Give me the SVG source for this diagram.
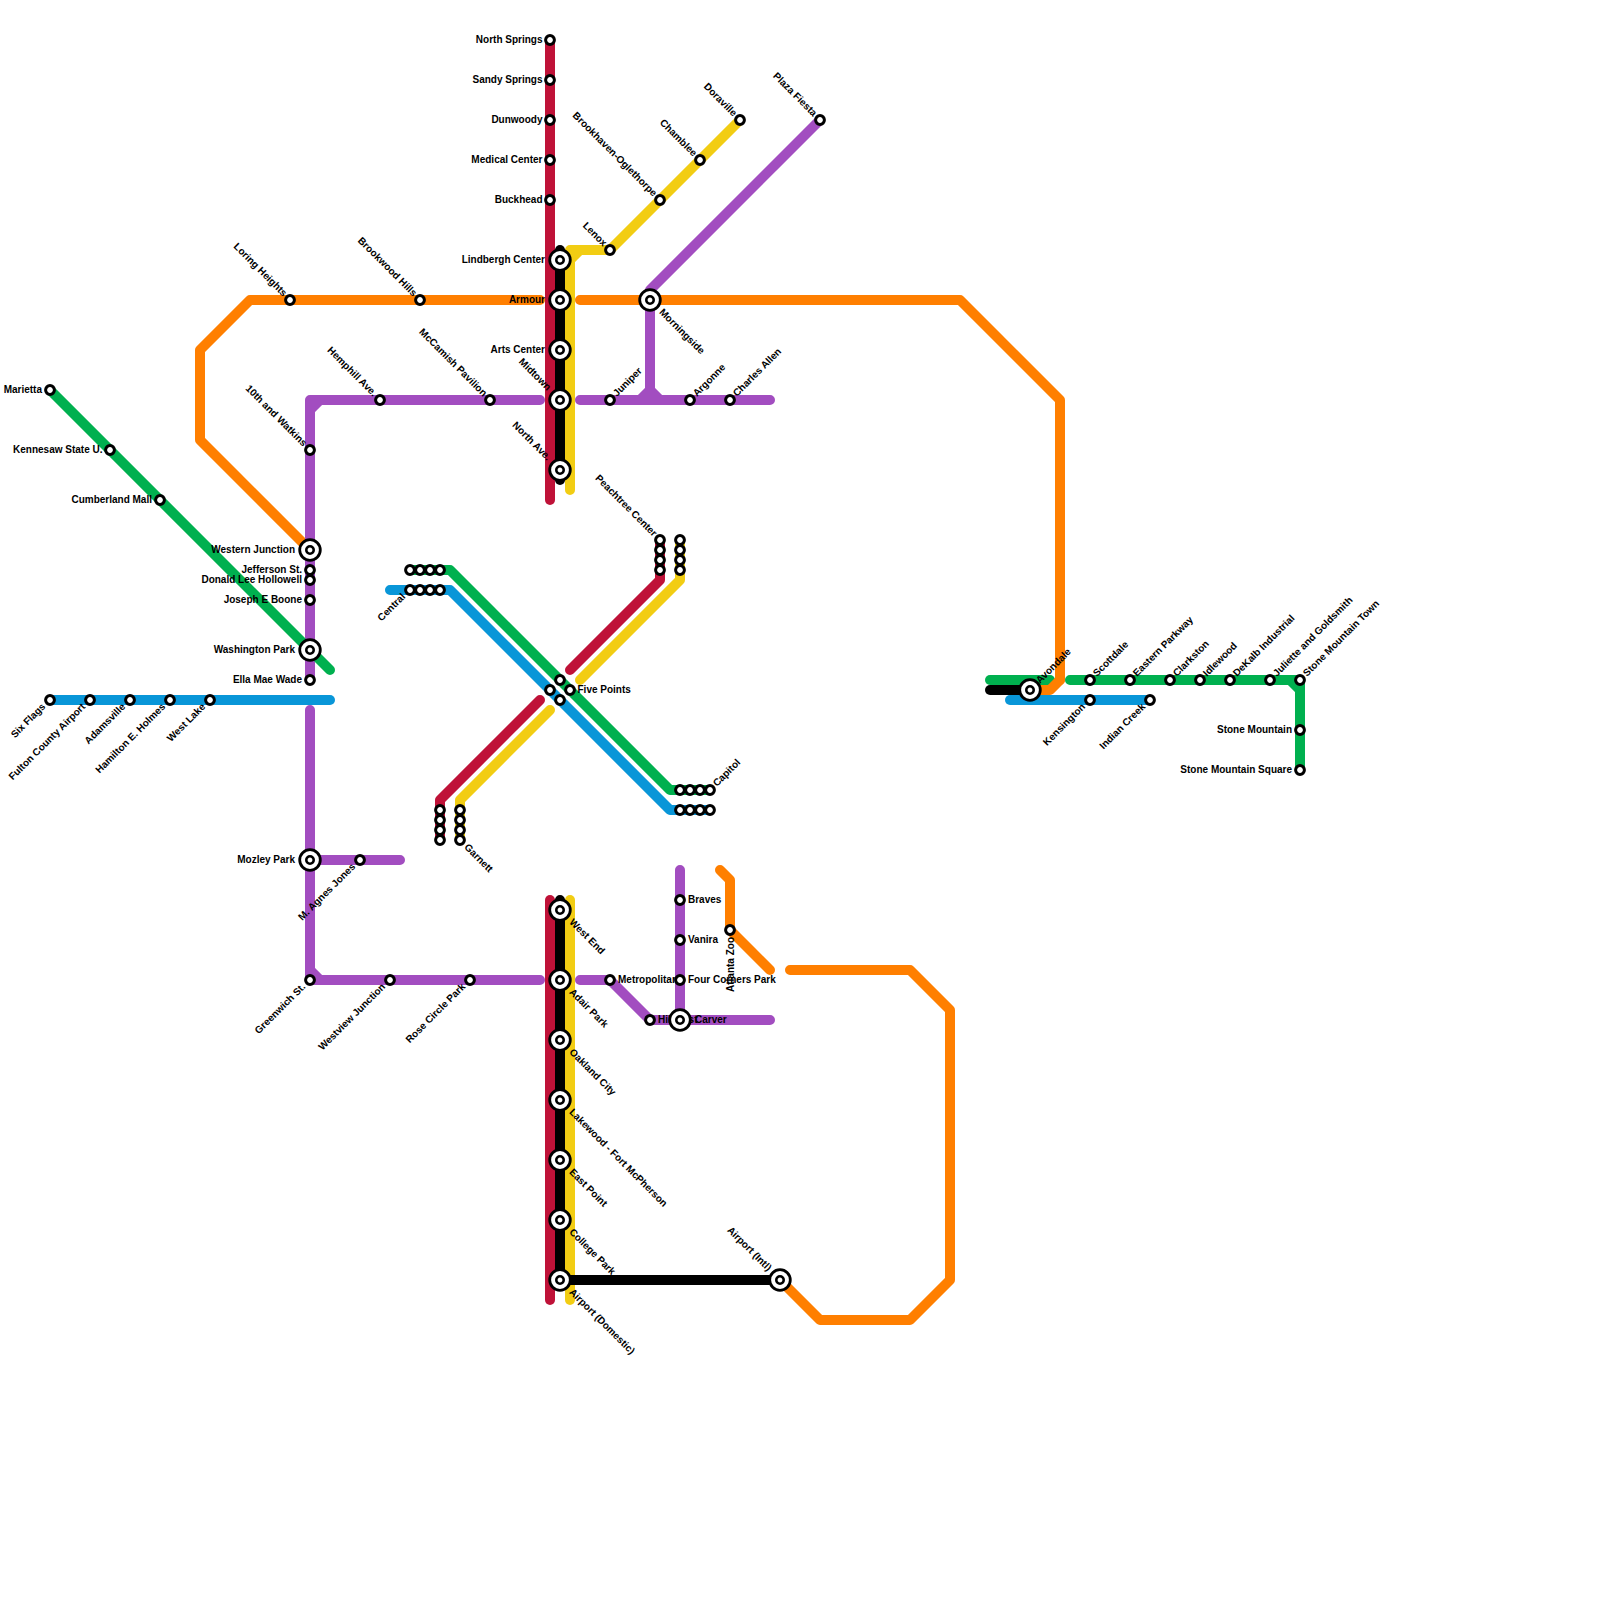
<svg xmlns="http://www.w3.org/2000/svg" width="1600" height="1600" viewBox="0 0 1600 1600">
<style>
.l{fill:none;stroke-width:10;stroke-linecap:round;stroke-linejoin:round}
.o{stroke:#ff7f00}.p{stroke:#a24dc0}.g{stroke:#00b04f}.b{stroke:#0996d8}.r{stroke:#bf1238}.y{stroke:#f2cd13}.k{stroke:#000}
.s{fill:#fff;stroke:#000;stroke-width:3}
.s2{fill:#fff;stroke:#000;stroke-width:2.8}
.s3{fill:#fff;stroke:#000;stroke-width:2.6}
text{font-family:"Liberation Sans",Arial,sans-serif;font-size:10px;font-weight:700;fill:#000}
.e{text-anchor:end}
</style>
<defs>
<g id="st"><circle class="s" r="4.4"/></g>
<g id="ix"><circle class="s2" r="10.3"/><circle class="s3" r="3.7"/></g>
</defs>
<g id="connectors">
<path class="l o" d="M540 300H250L200 350V440L310 550"/>
<path class="l o" d="M580 300H960L1060 400V680"/>
<path class="l o" d="M720 870L730 880V930L770 970M790 970H910L950 1010V1280L910 1320H820L780 1280"/>
<path class="l p" d="M540 400H310V680M310 410L320 400"/>
<path class="l p" d="M310 710V980H540M310 970L320 980M310 860H400"/>
<path class="l p" d="M820 120L650 290V400M580 400H770M640 400L650 390L660 400"/>
<path class="l p" d="M580 980H610L650 1020H770M680 870V1020"/>
<path class="l g" d="M50 390L330 670"/>
<path class="l g" d="M410 570H450L670 790H710"/>
<path class="l g" d="M990 680H1050"/>
<path class="l g" d="M1070 680H1300V770M1290 680L1300 690"/>
<path class="l o" d="M1060 680L1050 690H1030"/>
<path class="l b" d="M50 700H330"/>
<path class="l b" d="M390 590H450L670 810H710"/>
<path class="l b" d="M1010 700H1150"/>
<path class="l r" d="M550 40V500"/>
<path class="l r" d="M660 540V580L570 670"/>
<path class="l r" d="M440 840V800L540 700"/>
<path class="l r" d="M550 900V1300"/>
<path class="l y" d="M610 250H570V490M570 260L580 250"/>
<path class="l y" d="M740 120L610 250"/>
<path class="l y" d="M680 540V580L580 680"/>
<path class="l y" d="M460 840V800L550 710"/>
<path class="l y" d="M570 900V1300"/>
<path class="l k" d="M560 250V480"/>
<path class="l k" d="M560 900V1280H780"/>
<path class="l k" d="M990 690H1030"/>
</g>
<g id="n1"><use href="#st" x="550" y="40"/><text class="e" x="542.5" y="43">North Springs</text></g>
<g id="n2"><use href="#st" x="550" y="80"/><text class="e" x="542.5" y="83">Sandy Springs</text></g>
<g id="n3"><use href="#st" x="550" y="120"/><text class="e" x="542.5" y="123">Dunwoody</text></g>
<g id="n4"><use href="#st" x="550" y="160"/><text class="e" x="542.5" y="163">Medical Center</text></g>
<g id="n5"><use href="#st" x="550" y="200"/><text class="e" x="542.5" y="203">Buckhead</text></g>
<g id="n6"><use href="#ix" x="560" y="260"/><text class="e" x="545" y="263">Lindbergh Center</text></g>
<g id="n7"><use href="#ix" x="560" y="300"/><text class="e" x="545" y="303">Armour</text></g>
<g id="n8"><use href="#ix" x="560" y="350"/><text class="e" x="545" y="353">Arts Center</text></g>
<g id="n9"><use href="#ix" x="560" y="400"/><text class="e" transform="translate(549 389) rotate(45)" y="2.8">Midtown</text></g>
<g id="n10"><use href="#ix" x="560" y="470"/><text class="e" transform="translate(549 459) rotate(45)" y="2.8">North Ave.</text></g>
<g id="n11"><use href="#st" x="610" y="250"/><text class="e" transform="translate(605 245) rotate(45)" y="2.8">Lenox</text></g>
<g id="n12"><use href="#st" x="660" y="200"/><text class="e" transform="translate(655 195) rotate(45)" y="2.8">Brookhaven-Oglethorpe</text></g>
<g id="n13"><use href="#st" x="700" y="160"/><text class="e" transform="translate(695 155) rotate(45)" y="2.8">Chamblee</text></g>
<g id="n14"><use href="#st" x="740" y="120"/><text class="e" transform="translate(735 115) rotate(45)" y="2.8">Doraville</text></g>
<g id="n15"><use href="#st" x="820" y="120"/><text class="e" transform="translate(815 115) rotate(45)" y="2.8">Plaza Fiesta</text></g>
<g id="n16"><use href="#ix" x="650" y="300"/><text transform="translate(660 310) rotate(45)" x="1" y="2.8">Morningside</text></g>
<g id="n17"><use href="#st" x="610" y="400"/><text transform="translate(615 395) rotate(-45)" y="2.8">Juniper</text></g>
<g id="n18"><use href="#st" x="690" y="400"/><text transform="translate(695 395) rotate(-45)" y="2.8">Argonne</text></g>
<g id="n19"><use href="#st" x="730" y="400"/><text transform="translate(735 395) rotate(-45)" y="2.8">Charles Allen</text></g>
<g id="n20"><use href="#st" x="290" y="300"/><text class="e" transform="translate(285 295) rotate(45)" y="2.8">Loring Heights</text></g>
<g id="n21"><use href="#st" x="420" y="300"/><text class="e" transform="translate(415 295) rotate(45)" y="2.8">Brookwood Hills</text></g>
<g id="n22"><use href="#st" x="380" y="400"/><text class="e" transform="translate(375 395) rotate(45)" y="2.8">Hemphill Ave.</text></g>
<g id="n23"><use href="#st" x="490" y="400"/><text class="e" transform="translate(485 395) rotate(45)" y="2.8">McCamish Pavilion</text></g>
<g id="n24"><use href="#st" x="310" y="450"/><text class="e" transform="translate(305 445) rotate(45)" y="2.8">10th and Watkins</text></g>
<g id="n25"><use href="#ix" x="310" y="550"/><text class="e" x="295" y="553">Western Junction</text></g>
<g id="n26"><use href="#st" x="310" y="570"/><text class="e" x="302" y="573">Jefferson St.</text></g>
<g id="n27"><use href="#st" x="310" y="580"/><text class="e" x="302" y="583">Donald Lee Hollowell</text></g>
<g id="n28"><use href="#st" x="310" y="600"/><text class="e" x="302" y="603">Joseph E Boone</text></g>
<g id="n29"><use href="#ix" x="310" y="650"/><text class="e" x="295" y="653">Washington Park</text></g>
<g id="n30"><use href="#st" x="310" y="680"/><text class="e" x="302" y="683">Ella Mae Wade</text></g>
<g id="n31"><use href="#st" x="50" y="390"/><text class="e" x="42" y="393">Marietta</text></g>
<g id="n32"><use href="#st" x="110" y="450"/><text class="e" x="102.5" y="453">Kennesaw State U.</text></g>
<g id="n33"><use href="#st" x="160" y="500"/><text class="e" x="152" y="503">Cumberland Mall</text></g>
<g id="n34"><use href="#st" x="50" y="700"/><text class="e" transform="translate(45 705) rotate(-45)" x="-1" y="2.3">Six Flags</text></g>
<g id="n35"><use href="#st" x="90" y="700"/><text class="e" transform="translate(85 705) rotate(-45)" x="-1" y="2.3">Fulton County Airport</text></g>
<g id="n36"><use href="#st" x="130" y="700"/><text class="e" transform="translate(125 705) rotate(-45)" x="-1" y="2.3">Adamsville</text></g>
<g id="n37"><use href="#st" x="170" y="700"/><text class="e" transform="translate(165 705) rotate(-45)" x="-1" y="2.3">Hamilton E. Holmes</text></g>
<g id="n38"><use href="#st" x="210" y="700"/><text class="e" transform="translate(205 705) rotate(-45)" x="-1" y="2.3">West Lake</text></g>
<g id="n39"><use href="#st" x="410" y="570"/><use href="#st" x="420" y="570"/><use href="#st" x="430" y="570"/><use href="#st" x="440" y="570"/><use href="#st" x="410" y="590"/><use href="#st" x="420" y="590"/><use href="#st" x="430" y="590"/><use href="#st" x="440" y="590"/><text class="e" transform="translate(405 595) rotate(-45)" x="-1" y="2.3">Central</text></g>
<g id="n40"><use href="#st" x="660" y="540"/><use href="#st" x="660" y="550"/><use href="#st" x="660" y="560"/><use href="#st" x="660" y="570"/><use href="#st" x="680" y="540"/><use href="#st" x="680" y="550"/><use href="#st" x="680" y="560"/><use href="#st" x="680" y="570"/><text class="e" transform="translate(655 535) rotate(45)" y="2.8">Peachtree Center</text></g>
<g id="n41"><use href="#st" x="560" y="680"/><use href="#st" x="550" y="690"/><use href="#st" x="570" y="690"/><use href="#st" x="560" y="700"/><text x="577.5" y="693">Five Points</text></g>
<g id="n42"><use href="#st" x="440" y="810"/><use href="#st" x="440" y="820"/><use href="#st" x="440" y="830"/><use href="#st" x="440" y="840"/><use href="#st" x="460" y="810"/><use href="#st" x="460" y="820"/><use href="#st" x="460" y="830"/><use href="#st" x="460" y="840"/><text transform="translate(465 845) rotate(45)" x="1" y="2.8">Garnett</text></g>
<g id="n43"><use href="#st" x="680" y="790"/><use href="#st" x="690" y="790"/><use href="#st" x="700" y="790"/><use href="#st" x="710" y="790"/><use href="#st" x="680" y="810"/><use href="#st" x="690" y="810"/><use href="#st" x="700" y="810"/><use href="#st" x="710" y="810"/><text transform="translate(715 785) rotate(-45)" y="2.8">Capitol</text></g>
<g id="n44"><use href="#ix" x="310" y="860"/><text class="e" x="295" y="863">Mozley Park</text></g>
<g id="n45"><use href="#st" x="360" y="860"/><text class="e" transform="translate(355 865) rotate(-45)" x="-1" y="2.3">M. Agnes Jones</text></g>
<g id="n46"><use href="#st" x="310" y="980"/><text class="e" transform="translate(305 985) rotate(-45)" x="-1" y="2.3">Greenwich St.</text></g>
<g id="n47"><use href="#st" x="390" y="980"/><text class="e" transform="translate(385 985) rotate(-45)" x="-1" y="2.3">Westview Junction</text></g>
<g id="n48"><use href="#st" x="470" y="980"/><text class="e" transform="translate(465 985) rotate(-45)" x="-1" y="2.3">Rose Circle Park</text></g>
<g id="n49"><use href="#ix" x="560" y="910"/><text transform="translate(570 920) rotate(45)" x="1" y="2.8">West End</text></g>
<g id="n50"><use href="#ix" x="560" y="980"/><text transform="translate(570 990) rotate(45)" x="1" y="2.8">Adair Park</text></g>
<g id="n51"><use href="#ix" x="560" y="1040"/><text transform="translate(570 1050) rotate(45)" x="1" y="2.8">Oakland City</text></g>
<g id="n52"><use href="#ix" x="560" y="1100"/><text transform="translate(570 1110) rotate(45)" x="1" y="2.8">Lakewood - Fort McPherson</text></g>
<g id="n53"><use href="#ix" x="560" y="1160"/><text transform="translate(570 1170) rotate(45)" x="1" y="2.8">East Point</text></g>
<g id="n54"><use href="#ix" x="560" y="1220"/><text transform="translate(570 1230) rotate(45)" x="1" y="2.8">College Park</text></g>
<g id="n55"><use href="#ix" x="560" y="1280"/><text transform="translate(570 1290) rotate(45)" x="1" y="2.8">Airport (Domestic)</text></g>
<g id="n56"><use href="#ix" x="780" y="1280"/><text class="e" transform="translate(769.5 1269.5) rotate(45)" y="2.8">Airport (Intl)</text></g>
<g id="n57"><use href="#st" x="610" y="980"/><text x="618" y="983">Metropolitan</text></g>
<g id="n58"><use href="#st" x="650" y="1020"/><text x="658" y="1023">Hillcrest</text></g>
<g id="n59"><use href="#st" x="680" y="900"/><text x="688" y="903">Braves</text></g>
<g id="n60"><use href="#st" x="680" y="940"/><text x="688" y="943">Vanira</text></g>
<g id="n61"><use href="#st" x="680" y="980"/><text x="688" y="983">Four Corners Park</text></g>
<g id="n62"><use href="#ix" x="680" y="1020"/><text x="695" y="1023">Carver</text></g>
<g id="n63"><use href="#st" x="730" y="930"/><text class="e" transform="translate(730 937) rotate(-90)" y="3.5">Atlanta Zoo</text></g>
<g id="n64"><use href="#ix" x="1030" y="690"/><text transform="translate(1038 682) rotate(-45)" y="2.8">Avondale</text></g>
<g id="n65"><use href="#st" x="1090" y="680"/><text transform="translate(1095 675) rotate(-45)" y="2.8">Scottdale</text></g>
<g id="n66"><use href="#st" x="1130" y="680"/><text transform="translate(1135 675) rotate(-45)" y="2.8">Eastern Parkway</text></g>
<g id="n67"><use href="#st" x="1170" y="680"/><text transform="translate(1175 675) rotate(-45)" y="2.8">Clarkston</text></g>
<g id="n68"><use href="#st" x="1200" y="680"/><text transform="translate(1205 675) rotate(-45)" y="2.8">Idlewood</text></g>
<g id="n69"><use href="#st" x="1230" y="680"/><text transform="translate(1235 675) rotate(-45)" y="2.8">DeKalb Industrial</text></g>
<g id="n70"><use href="#st" x="1270" y="680"/><text transform="translate(1275 675) rotate(-45)" y="2.8">Juliette and Goldsmith</text></g>
<g id="n71"><use href="#st" x="1300" y="680"/><text transform="translate(1305 675) rotate(-45)" y="2.8">Stone Mountain Town</text></g>
<g id="n72"><use href="#st" x="1300" y="730"/><text class="e" x="1292" y="733">Stone Mountain</text></g>
<g id="n73"><use href="#st" x="1300" y="770"/><text class="e" x="1292" y="773">Stone Mountain Square</text></g>
<g id="n74"><use href="#st" x="1090" y="700"/><text class="e" transform="translate(1085 705) rotate(-45)" x="-1" y="2.3">Kensington</text></g>
<g id="n75"><use href="#st" x="1150" y="700"/><text class="e" transform="translate(1145 705) rotate(-45)" x="-1" y="2.3">Indian Creek</text></g>
</svg>
